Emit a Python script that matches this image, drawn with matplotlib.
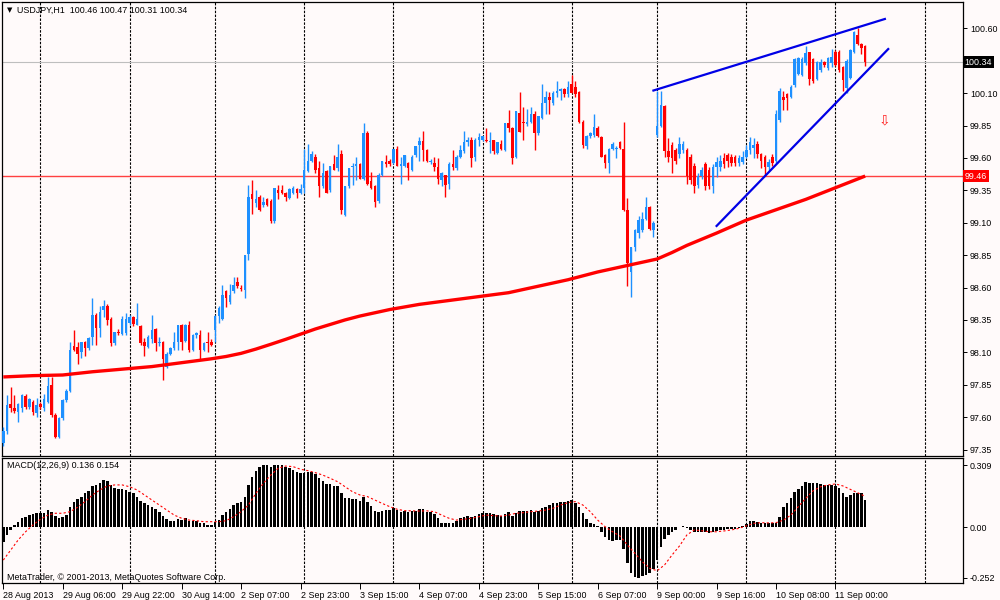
import matplotlib
matplotlib.use('Agg')
import matplotlib.pyplot as plt
import numpy as np

plt.rcParams['font.family'] = ['Liberation Sans', 'DejaVu Sans']

# ---------------- data (hourly USDJPY bars, index 0 = 28 Aug 2013 14:00) ----------------
opens = [
    97.40, 97.49, 97.70, 97.67, 97.64, 97.67, 97.76, 97.68, 97.72, 97.63,
    97.70, 97.67, 97.72, 97.85, 97.62, 97.45, 97.59, 97.73, 97.80, 98.15,
    98.14, 98.10, 98.18, 98.13, 98.22, 98.39, 98.29, 98.43, 98.46, 98.36,
    98.17, 98.26, 98.24, 98.25, 98.33, 98.37, 98.31, 98.30, 98.18, 98.14,
    98.20, 98.28, 98.17, 98.18, 97.99, 98.09, 98.13, 98.18, 98.31, 98.19,
    98.31, 98.12, 98.23, 98.23, 98.12, 98.18, 98.18, 98.27, 98.38, 98.36,
    98.57, 98.49, 98.57, 98.64, 98.60, 98.58, 98.86, 99.32, 99.25, 99.30,
    99.24, 99.28, 99.27, 99.11, 99.35, 99.35, 99.33, 99.29, 99.33, 99.36,
    99.33, 99.37, 99.50, 99.58, 99.61, 99.52, 99.38, 99.50, 99.35, 99.55,
    99.52, 99.63, 99.16, 99.38, 99.53, 99.54, 99.55, 99.44, 99.79, 99.42,
    99.38, 99.27, 99.47, 99.57, 99.58, 99.56, 99.67, 99.54, 99.54, 99.56,
    99.51, 99.62, 99.70, 99.73, 99.66, 99.57, 99.56, 99.53, 99.43, 99.47,
    99.40, 99.55, 99.52, 99.61, 99.65, 99.72, 99.74, 99.61, 99.74, 99.74,
    99.74, 99.72, 99.74, 99.64, 99.71, 99.66, 99.87, 99.83, 99.61, 99.95,
    99.88, 99.86, 99.88, 99.94, 99.79, 99.91, 100.02, 100.07, 100.02, 100.10,
    100.12, 100.13, 100.09, 100.17, 100.15, 100.11, 99.88, 99.69, 99.77, 99.78,
    99.83, 99.76, 99.62, 99.56, 99.67, 99.67, 99.72, 99.67, 99.20, 98.72,
    98.91, 99.02, 99.04, 99.13, 99.22, 99.04, 99.78, 99.85, 100.00, 99.65,
    99.70, 99.66, 99.63, 99.66, 99.66, 99.61, 99.54, 99.39, 99.46, 99.55,
    99.51, 99.38, 99.53, 99.53, 99.60, 99.62, 99.61, 99.61, 99.56, 99.57,
    99.61, 99.66, 99.68, 99.71, 99.63, 99.61, 99.53, 99.61, 99.58, 99.89,
    100.07, 100.09, 100.07, 100.16, 100.25, 100.24, 100.33, 100.42, 100.36, 100.21,
    100.28, 100.34, 100.29, 100.33, 100.42, 100.42, 100.30, 100.14, 100.22, 100.42,
    100.55, 100.48, 100.46,
]
highs = [
    97.52, 97.77, 97.83, 97.77, 97.71, 97.78, 97.78, 97.75, 97.73, 97.75,
    97.72, 97.78, 97.91, 97.91, 97.63, 97.60, 97.74, 97.82, 98.18, 98.27,
    98.18, 98.18, 98.19, 98.22, 98.52, 98.40, 98.46, 98.50, 98.47, 98.37,
    98.26, 98.28, 98.38, 98.40, 98.39, 98.38, 98.48, 98.31, 98.21, 98.23,
    98.39, 98.29, 98.22, 98.19, 98.10, 98.14, 98.26, 98.31, 98.32, 98.32,
    98.34, 98.24, 98.26, 98.27, 98.18, 98.26, 98.20, 98.39, 98.46, 98.62,
    98.58, 98.63, 98.68, 98.68, 98.62, 98.85, 99.39, 99.43, 99.35, 99.31,
    99.30, 99.29, 99.28, 99.37, 99.39, 99.39, 99.34, 99.37, 99.38, 99.37,
    99.40, 99.67, 99.71, 99.65, 99.63, 99.58, 99.56, 99.51, 99.54, 99.62,
    99.71, 99.66, 99.38, 99.52, 99.56, 99.61, 99.56, 99.87, 99.81, 99.49,
    99.39, 99.48, 99.58, 99.62, 99.59, 99.67, 99.69, 99.61, 99.62, 99.57,
    99.62, 99.69, 99.76, 99.81, 99.67, 99.59, 99.61, 99.60, 99.49, 99.47,
    99.57, 99.66, 99.62, 99.70, 99.81, 99.76, 99.76, 99.75, 99.79, 99.77,
    99.83, 99.80, 99.74, 99.72, 99.74, 99.87, 99.97, 99.84, 99.96, 100.11,
    99.99, 99.98, 99.99, 99.96, 99.92, 100.17, 100.12, 100.11, 100.12, 100.19,
    100.14, 100.14, 100.19, 100.24, 100.19, 100.12, 99.89, 99.78, 99.80, 99.94,
    99.85, 99.77, 99.63, 99.68, 99.72, 99.69, 99.73, 99.88, 99.29, 98.91,
    99.05, 99.15, 99.18, 99.30, 99.23, 99.11, 100.12, 100.12, 100.01, 99.75,
    99.72, 99.68, 99.76, 99.73, 99.68, 99.63, 99.56, 99.48, 99.53, 99.57,
    99.53, 99.55, 99.61, 99.62, 99.64, 99.64, 99.63, 99.62, 99.62, 99.65,
    99.70, 99.76, 99.75, 99.73, 99.64, 99.62, 99.59, 99.63, 99.97, 100.14,
    100.12, 100.10, 100.16, 100.37, 100.38, 100.38, 100.46, 100.42, 100.37, 100.35,
    100.36, 100.35, 100.38, 100.44, 100.43, 100.43, 100.31, 100.36, 100.44, 100.58,
    100.60, 100.49, 100.47,
]
lows = [
    97.38, 97.47, 97.64, 97.63, 97.56, 97.64, 97.66, 97.66, 97.62, 97.60,
    97.66, 97.65, 97.71, 97.60, 97.44, 97.44, 97.58, 97.72, 97.79, 98.11,
    98.01, 98.06, 98.07, 98.12, 98.16, 98.16, 98.22, 98.37, 98.31, 98.15,
    98.16, 98.23, 98.23, 98.23, 98.31, 98.30, 98.31, 98.16, 98.07, 98.13,
    98.17, 98.11, 98.15, 97.89, 97.98, 98.08, 98.12, 98.12, 98.12, 98.18,
    98.10, 98.11, 98.21, 98.05, 98.11, 98.10, 98.15, 98.18, 98.33, 98.35,
    98.45, 98.47, 98.56, 98.60, 98.57, 98.52, 98.81, 99.17, 99.22, 99.19,
    99.22, 99.23, 99.10, 99.10, 99.28, 99.32, 99.27, 99.28, 99.32, 99.29,
    99.32, 99.33, 99.49, 99.57, 99.48, 99.30, 99.37, 99.33, 99.34, 99.51,
    99.50, 99.17, 99.15, 99.37, 99.39, 99.43, 99.44, 99.43, 99.39, 99.36,
    99.22, 99.25, 99.46, 99.53, 99.54, 99.55, 99.54, 99.40, 99.53, 99.43,
    99.50, 99.61, 99.58, 99.58, 99.57, 99.55, 99.50, 99.40, 99.38, 99.30,
    99.36, 99.51, 99.51, 99.60, 99.64, 99.69, 99.53, 99.58, 99.69, 99.73,
    99.72, 99.64, 99.63, 99.63, 99.66, 99.65, 99.80, 99.55, 99.60, 99.80,
    99.74, 99.85, 99.87, 99.66, 99.78, 99.90, 99.94, 99.94, 100.01, 100.07,
    100.05, 100.07, 100.07, 100.10, 100.07, 99.87, 99.68, 99.67, 99.75, 99.76,
    99.76, 99.61, 99.52, 99.48, 99.66, 99.60, 99.67, 99.19, 98.61, 98.53,
    98.88, 98.98, 99.03, 99.12, 99.04, 98.99, 99.76, 99.84, 99.61, 99.57,
    99.48, 99.55, 99.60, 99.64, 99.40, 99.40, 99.33, 99.37, 99.44, 99.35,
    99.36, 99.33, 99.45, 99.50, 99.52, 99.53, 99.54, 99.54, 99.54, 99.55,
    99.60, 99.63, 99.60, 99.60, 99.52, 99.46, 99.51, 99.54, 99.56, 99.88,
    99.97, 99.97, 100.06, 100.15, 100.24, 100.23, 100.32, 100.16, 100.18, 100.20,
    100.26, 100.30, 100.28, 100.30, 100.31, 100.26, 100.12, 100.10, 100.21, 100.41,
    100.47, 100.40, 100.31,
]
closes = [
    97.49, 97.69, 97.67, 97.65, 97.70, 97.77, 97.68, 97.74, 97.64, 97.69,
    97.68, 97.74, 97.84, 97.62, 97.45, 97.59, 97.73, 97.80, 98.12, 98.12,
    98.09, 98.18, 98.13, 98.21, 98.39, 98.29, 98.41, 98.46, 98.35, 98.17,
    98.26, 98.25, 98.36, 98.36, 98.37, 98.32, 98.36, 98.17, 98.15, 98.22,
    98.27, 98.17, 98.18, 98.05, 98.09, 98.13, 98.18, 98.31, 98.18, 98.31,
    98.12, 98.23, 98.25, 98.12, 98.17, 98.17, 98.16, 98.38, 98.44, 98.54,
    98.52, 98.54, 98.62, 98.61, 98.59, 98.85, 99.30, 99.28, 99.28, 99.20,
    99.26, 99.24, 99.11, 99.37, 99.33, 99.33, 99.30, 99.36, 99.37, 99.33,
    99.36, 99.51, 99.58, 99.63, 99.51, 99.38, 99.48, 99.33, 99.54, 99.51,
    99.61, 99.20, 99.38, 99.52, 99.54, 99.55, 99.44, 99.79, 99.40, 99.37,
    99.26, 99.47, 99.58, 99.55, 99.55, 99.67, 99.54, 99.55, 99.62, 99.52,
    99.61, 99.69, 99.73, 99.66, 99.58, 99.58, 99.53, 99.44, 99.48, 99.39,
    99.55, 99.53, 99.61, 99.66, 99.72, 99.74, 99.60, 99.74, 99.76, 99.77,
    99.73, 99.73, 99.65, 99.72, 99.67, 99.87, 99.83, 99.60, 99.96, 99.80,
    99.87, 99.88, 99.94, 99.79, 99.92, 100.02, 100.07, 100.05, 100.10, 100.12,
    100.13, 100.09, 100.15, 100.10, 100.09, 99.88, 99.70, 99.77, 99.79, 99.84,
    99.77, 99.61, 99.56, 99.67, 99.71, 99.68, 99.68, 99.20, 98.79, 98.91,
    99.04, 99.12, 99.13, 99.22, 99.05, 99.10, 99.85, 100.01, 99.65, 99.61,
    99.60, 99.58, 99.71, 99.71, 99.46, 99.43, 99.38, 99.46, 99.51, 99.38,
    99.38, 99.53, 99.57, 99.58, 99.55, 99.58, 99.56, 99.56, 99.60, 99.61,
    99.66, 99.72, 99.70, 99.63, 99.58, 99.53, 99.57, 99.56, 99.94, 100.12,
    100.05, 100.06, 100.15, 100.36, 100.37, 100.36, 100.41, 100.21, 100.19, 100.34,
    100.34, 100.32, 100.37, 100.38, 100.32, 100.28, 100.20, 100.35, 100.43, 100.57,
    100.48, 100.45, 100.34,
]

# moving average (sampled every 4 bars)
ma_bars = [0, 8, 16, 24, 32, 40, 48, 52, 56, 60, 64, 68, 72, 76, 80, 84, 88,
           92, 96, 100, 104, 108, 112, 120, 128, 136, 144, 152, 160, 168, 172,
           176, 180, 184, 192, 200, 208, 216, 224, 232]
ma_vals = [97.91, 97.92, 97.925, 97.95, 97.97, 97.99, 98.02, 98.035, 98.05, 98.068,
           98.092, 98.125, 98.162, 98.20, 98.24, 98.28, 98.315, 98.35, 98.38, 98.405,
           98.43, 98.45, 98.47, 98.50, 98.53, 98.56, 98.61, 98.66, 98.72, 98.77,
           98.795, 98.82, 98.87, 98.925, 99.02, 99.12, 99.20, 99.28, 99.37, 99.46]

# trend lines (bar, price)
upper_line_bars = [175.0, 237.3]
upper_line_vals = [100.12, 100.672]
lower_line_bars = [192.0, 238.2]
lower_line_vals = [99.075, 100.44]

bid_price = 100.34
hline_price = 99.46
arrow_bar, arrow_price = 237.3, 99.89

# MACD histogram (one per bar) and signal (every 2 bars)
macd_hist = [
    -0.071, -0.038, -0.013, 0.012, 0.028, 0.045, 0.053, 0.061, 0.065, 0.070,
    0.073, 0.073, 0.086, 0.078, 0.056, 0.048, 0.053, 0.061, 0.103, 0.128,
    0.139, 0.153, 0.169, 0.182, 0.206, 0.211, 0.222, 0.235, 0.232, 0.211,
    0.194, 0.189, 0.189, 0.186, 0.177, 0.169, 0.153, 0.133, 0.119, 0.111,
    0.103, 0.090, 0.078, 0.056, 0.040, 0.033, 0.033, 0.043, 0.036, 0.045,
    0.033, 0.033, 0.032, 0.023, 0.020, 0.013, 0.012, 0.028, 0.036, 0.061,
    0.078, 0.090, 0.111, 0.119, 0.124, 0.153, 0.211, 0.252, 0.282, 0.302,
    0.310, 0.310, 0.302, 0.310, 0.310, 0.310, 0.302, 0.294, 0.285, 0.277,
    0.269, 0.272, 0.277, 0.277, 0.265, 0.244, 0.232, 0.216, 0.216, 0.206,
    0.206, 0.172, 0.144, 0.144, 0.141, 0.141, 0.131, 0.149, 0.128, 0.106,
    0.081, 0.078, 0.083, 0.086, 0.086, 0.095, 0.086, 0.078, 0.081, 0.078,
    0.081, 0.083, 0.091, 0.090, 0.078, 0.078, 0.066, 0.045, 0.023, 0.023,
    0.020, 0.023, 0.033, 0.045, 0.053, 0.056, 0.053, 0.056, 0.065, 0.070,
    0.070, 0.070, 0.065, 0.061, 0.056, 0.066, 0.075, 0.056, 0.073, 0.081,
    0.081, 0.083, 0.086, 0.078, 0.081, 0.095, 0.103, 0.111, 0.119, 0.123,
    0.128, 0.128, 0.131, 0.136, 0.123, 0.100, 0.070, 0.041, 0.023, 0.017,
    0.007, -0.022, -0.050, -0.063, -0.066, -0.063, -0.063, -0.109, -0.179, -0.229,
    -0.245, -0.250, -0.242, -0.237, -0.229, -0.209, -0.163, -0.096, -0.060, -0.038,
    -0.022, -0.013, 0.002, 0.007, -0.002, -0.013, -0.022, -0.022, -0.022, -0.022,
    -0.030, -0.022, -0.017, -0.013, -0.013, -0.010, -0.010, -0.007, -0.002, 0.007,
    0.017, 0.033, 0.033, 0.028, 0.023, 0.020, 0.020, 0.020, 0.023, 0.053,
    0.103, 0.119, 0.144, 0.177, 0.189, 0.206, 0.224, 0.222, 0.219, 0.219,
    0.216, 0.211, 0.211, 0.211, 0.206, 0.194, 0.172, 0.153, 0.161, 0.169,
    0.172, 0.169, 0.136,
]
signal_vals = [
    -0.163, -0.113, -0.063, -0.022, 0.012, 0.040, 0.061, 0.070, 0.070, 0.078,
    0.100, 0.128, 0.161, 0.186, 0.206, 0.211, 0.211, 0.202, 0.186, 0.161,
    0.136, 0.111, 0.086, 0.061, 0.045, 0.036, 0.033, 0.028, 0.028, 0.028,
    0.033, 0.053, 0.078, 0.111, 0.169, 0.219, 0.260, 0.294, 0.305, 0.302,
    0.289, 0.282, 0.272, 0.260, 0.244, 0.227, 0.202, 0.177, 0.161, 0.153,
    0.136, 0.119, 0.103, 0.090, 0.083, 0.082, 0.081, 0.082, 0.078, 0.061,
    0.045, 0.036, 0.040, 0.045, 0.053, 0.061, 0.058, 0.056, 0.061, 0.070,
    0.073, 0.078, 0.081, 0.086, 0.095, 0.111, 0.123, 0.128, 0.111, 0.078,
    0.036, 0.003, -0.022, -0.043, -0.088, -0.129, -0.171, -0.204, -0.216, -0.187,
    -0.138, -0.093, -0.038, -0.013, -0.017, -0.022, -0.022, -0.018, -0.013, -0.005,
    0.007, 0.020, 0.023, 0.022, 0.023, 0.036, 0.061, 0.103, 0.144, 0.182,
    0.202, 0.211, 0.216, 0.206, 0.189, 0.172, 0.154,
]
signal_bars = list(range(0, 233, 2))

# time axis
xtick_bars = [0, 16, 32, 48, 64, 80, 96, 112, 128, 144, 160, 176, 192, 208, 224]
xtick_labels = ['28 Aug 2013', '29 Aug 06:00', '29 Aug 22:00', '30 Aug 14:00',
                '2 Sep 07:00', '2 Sep 23:00', '3 Sep 15:00', '4 Sep 07:00',
                '4 Sep 23:00', '5 Sep 15:00', '6 Sep 07:00', '9 Sep 00:00',
                '9 Sep 16:00', '10 Sep 08:00', '11 Sep 00:00']
day_bars = [10, 34, 57, 81, 105, 129, 153, 176, 200, 224, 248]
price_ticks = [97.35, 97.60, 97.85, 98.10, 98.35, 98.60, 98.85, 99.10, 99.35,
               99.60, 99.85, 100.10, 100.60]
macd_ticks = [0.309, 0.0, -0.252]
macd_tick_labels = ['0.309', '0.00', '-0.252']

# ---------------- drawing ----------------
BG = '#FFFAFA'
BULL = '#1E90FF'
BEAR = '#FF0000'
FS = 6.4

fig = plt.figure(figsize=(10, 6), dpi=100, facecolor=BG)
ax = fig.add_axes([2/1000, 1-456/600, 961/1000, 454/600], facecolor=BG)
axm = fig.add_axes([2/1000, 1-583/600, 961/1000, 125/600], facecolor=BG)

o = np.array(opens); h = np.array(highs); l = np.array(lows); c = np.array(closes)
x = np.arange(len(o))
cols = np.where(c >= o, BULL, BEAR)

for g in day_bars:
    for a in (ax, axm):
        a.axvline(g, color='black', lw=0.8, ls=(0, (2.2, 1.3)), zorder=1)

ax.axhline(bid_price, color='#BEBEBE', lw=0.8, zorder=1)
ax.axhline(hline_price, color='#FF4040', lw=1.0, zorder=2)

ax.vlines(x, l, h, colors=cols, lw=1.0, zorder=3)
bottoms = np.minimum(o, c)
heights = np.maximum(np.abs(c - o), 0.006)
ax.bar(x, heights, bottom=bottoms, width=0.68, color=cols, linewidth=0, zorder=4)

ax.plot(ma_bars, ma_vals, color='#FF0000', lw=2.4, solid_capstyle='butt', zorder=5)
ax.plot(upper_line_bars, upper_line_vals, color='#0000E6', lw=1.6, zorder=6)
ax.plot(lower_line_bars, lower_line_vals, color='#0000E6', lw=1.6, zorder=6)
ax.text(arrow_bar, arrow_price, '\u21e9', color='#FF2020', fontsize=10,
        ha='center', va='center', family=['DejaVu Sans'], zorder=7)

xmin, xmax = -0.35, 258.33
ax.set_xlim(xmin, xmax)
ax.set_ylim(97.300, 100.803)
ax.yaxis.tick_right()
ax.set_yticks(price_ticks)
ax.set_yticklabels(['%.2f' % v for v in price_ticks])
ax.tick_params(axis='y', labelsize=FS, length=3, width=0.7, pad=2, colors='black')
ax.tick_params(axis='x', bottom=False, labelbottom=False)

ytr = ax.get_yaxis_transform()
ax.text(1.0018, bid_price, '%.2f' % bid_price, transform=ytr, ha='left', va='center',
        fontsize=FS, color='white',
        bbox=dict(boxstyle='square,pad=0.18', fc='black', ec='none'), clip_on=False)
ax.text(1.0018, hline_price, '%.2f' % hline_price, transform=ytr, ha='left', va='center',
        fontsize=FS, color='white',
        bbox=dict(boxstyle='square,pad=0.18', fc='#FF0000', ec='none'), clip_on=False)

# MACD panel
axm.bar(x, macd_hist, width=0.68, color='black', linewidth=0, zorder=3)
axm.plot(signal_bars, signal_vals, color='#FF0000', lw=0.8, ls=(0, (2, 2)), zorder=4)
axm.set_xlim(xmin, xmax)
axm.set_ylim(-0.277, 0.345)
axm.yaxis.tick_right()
axm.set_yticks(macd_ticks)
axm.set_yticklabels(macd_tick_labels)
axm.tick_params(axis='y', labelsize=FS, length=3, width=0.7, pad=2, colors='black')
axm.set_xticks(xtick_bars)
axm.set_xticklabels(xtick_labels, ha='left')
axm.tick_params(axis='x', labelsize=FS, length=4, width=0.7, pad=1.5, colors='black')

for a in (ax, axm):
    for s in a.spines.values():
        s.set_color('black')
        s.set_linewidth(0.9)

fig.text(7/1000, 1-10/600, '\u25bc', fontsize=5, va='center', ha='left',
         family=['DejaVu Sans'])
fig.text(17/1000, 1-10/600, 'USDJPY,H1  100.46 100.47 100.31 100.34', fontsize=FS,
         va='center', ha='left')
fig.text(7/1000, 1-466/600, 'MACD(12,26,9) 0.136 0.154', fontsize=FS,
         va='center', ha='left')
fig.text(7/1000, 1-577/600, 'MetaTrader, \u00a9 2001-2013, MetaQuotes Software Corp.',
         fontsize=FS, va='center', ha='left')

fig.savefig('out.png', dpi=100, facecolor=BG)
